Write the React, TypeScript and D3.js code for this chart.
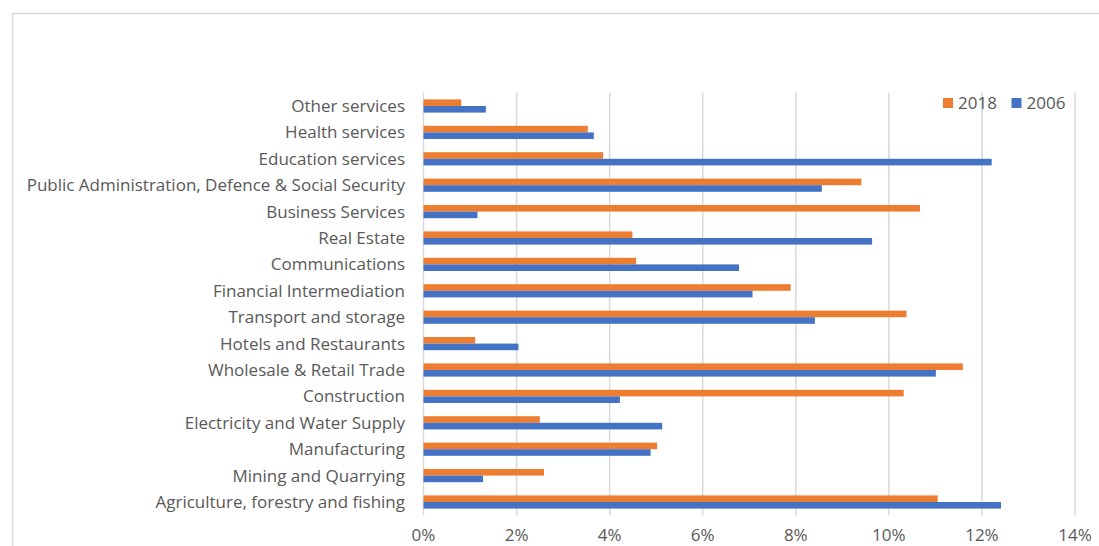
import React, { useEffect, useRef } from "react";
import * as d3 from "d3";

const width = 1099;
const height = 546;
const margin = { top: 92.8, right: 24, bottom: 30.8, left: 423.5 };

const categories = [
  "Other services",
  "Health services",
  "Education services",
  "Public Administration, Defence & Social Security",
  "Business Services",
  "Real Estate",
  "Communications",
  "Financial Intermediation",
  "Transport and storage",
  "Hotels and Restaurants",
  "Wholesale & Retail Trade",
  "Construction",
  "Electricity and Water Supply",
  "Manufacturing",
  "Mining and Quarrying",
  "Agriculture, forestry and fishing",
];

const values2018 = [
  0.0081, 0.0353, 0.0386, 0.0941, 0.1067, 0.0449, 0.0457, 0.0789,
  0.1038, 0.0111, 0.1159, 0.1032, 0.025, 0.0502, 0.0259, 0.1105,
];
const values2006 = [
  0.0134, 0.0366, 0.1221, 0.0856, 0.0116, 0.0964, 0.0678, 0.0707,
  0.0841, 0.0204, 0.1101, 0.0422, 0.0513, 0.0488, 0.0128, 0.1241,
];

const seriesNames = ["2018", "2006"];
const colors = { "2018": "#ED7D31", "2006": "#4472C4" };
const xTicks = [0, 0.02, 0.04, 0.06, 0.08, 0.1, 0.12, 0.14];

const font = "'Open Sans', sans-serif";
const fontSize = 17;
const textColor = "#595959";

export default function App() {
  const ref = useRef<SVGSVGElement>(null);

  useEffect(() => {
    const svg = d3.select(ref.current);
    svg.selectAll("*").remove();

    const x = d3
      .scaleLinear()
      .domain([0, 0.14])
      .range([margin.left, width - margin.right]);

    const y = d3
      .scaleBand()
      .domain(categories)
      .range([margin.top, height - margin.bottom])
      .paddingInner(0.5)
      .paddingOuter(0.25);

    const sub = d3.scaleBand().domain(seriesNames).range([0, y.bandwidth()]);

    // chart border (cropped at right/bottom)
    svg
      .append("rect")
      .attr("x", 12.5)
      .attr("y", 13.5)
      .attr("width", 1200)
      .attr("height", 600)
      .attr("fill", "none")
      .attr("stroke", "#D9D9D9")
      .attr("stroke-width", 1.5);

    // gridlines
    svg
      .append("g")
      .selectAll("line")
      .data(xTicks)
      .join("line")
      .attr("x1", (d) => x(d))
      .attr("x2", (d) => x(d))
      .attr("y1", margin.top)
      .attr("y2", height - margin.bottom)
      .attr("stroke", "#D9D9D9")
      .attr("stroke-width", 1.5);

    // x tick labels
    svg
      .append("g")
      .selectAll("text")
      .data(xTicks)
      .join("text")
      .attr("x", (d) => x(d))
      .attr("y", 541)
      .attr("text-anchor", "middle")
      .attr("font-family", font)
      .attr("font-size", fontSize)
      .attr("fill", textColor)
      .text((d) => d3.format(".0%")(d));

    // category labels
    svg
      .append("g")
      .selectAll("text")
      .data(categories)
      .join("text")
      .attr("x", 405)
      .attr("y", (d) => (y(d) as number) + y.bandwidth() / 2)
      .attr("dy", "0.35em")
      .attr("text-anchor", "end")
      .attr("font-family", font)
      .attr("font-size", fontSize)
      .attr("fill", textColor)
      .text((d) => d);

    const rows = categories.map((c, i) => ({
      cat: c,
      vals: [
        { key: "2018", v: values2018[i] },
        { key: "2006", v: values2006[i] },
      ],
    }));

    svg
      .append("g")
      .selectAll("g")
      .data(rows)
      .join("g")
      .attr("transform", (d) => `translate(0,${y(d.cat)})`)
      .selectAll("rect")
      .data((d) => d.vals)
      .join("rect")
      .attr("x", x(0))
      .attr("y", (d) => sub(d.key) as number)
      .attr("width", (d) => x(d.v) - x(0))
      .attr("height", sub.bandwidth())
      .attr("fill", (d) => colors[d.key]);

    // legend
    const legendItems = [
      { key: "2018", x: 943 },
      { key: "2006", x: 1011.5 },
    ];
    const lg = svg.append("g");
    legendItems.forEach((it) => {
      lg.append("rect")
        .attr("x", it.x)
        .attr("y", 98)
        .attr("width", 10)
        .attr("height", 10)
        .attr("fill", colors[it.key]);
      lg.append("text")
        .attr("x", it.x + 15)
        .attr("y", 103)
        .attr("dy", "0.35em")
        .attr("font-family", font)
        .attr("font-size", fontSize)
        .attr("fill", textColor)
        .text(it.key);
    });
  }, []);

  return (
    <svg
      ref={ref}
      width={width}
      height={height}
      style={{ position: "absolute", left: 0, top: 0, background: "#fff" }}
    />
  );
}
